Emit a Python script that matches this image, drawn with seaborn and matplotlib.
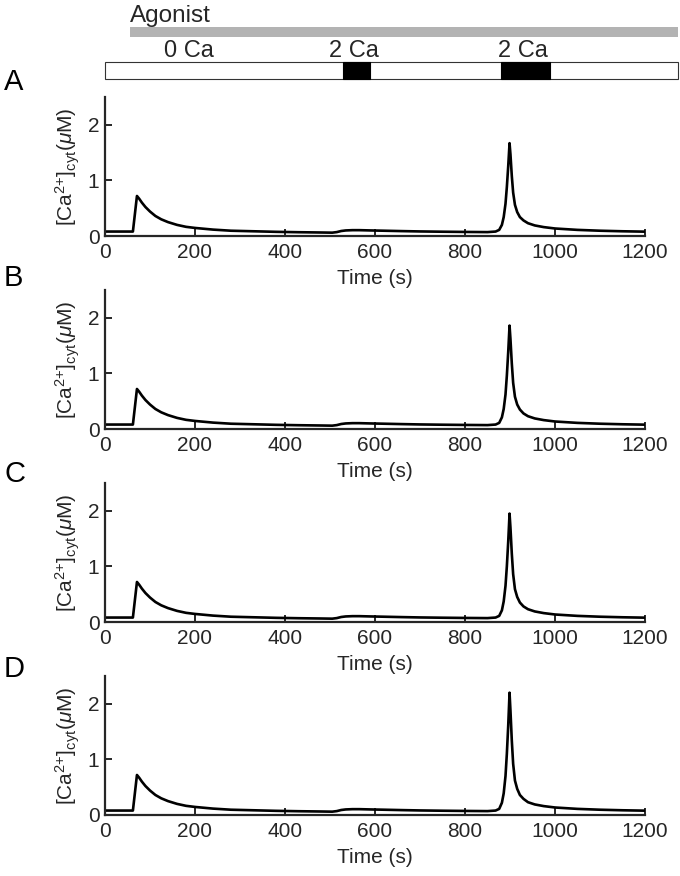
import numpy as np
import pandas as pd
import matplotlib
matplotlib.use("Agg")
import matplotlib.pyplot as plt
from matplotlib.patches import Rectangle
import seaborn as sns

# ---------------- data ----------------
time_s = [0, 62, 71, 76, 82, 90, 100, 112, 125, 140, 160, 180, 200, 240, 280, 330,
          380, 430, 480, 505, 515, 525, 535, 550, 565, 590, 620, 660, 700, 750, 800,
          850, 868, 876, 882, 886, 890, 893, 896, 899, 901, 904, 907, 911, 916, 922,
          930, 940, 955, 975, 1000, 1050, 1100, 1150, 1200]

common_head = [0.08, 0.08, 0.72, 0.67, 0.60, 0.52, 0.44, 0.36, 0.30, 0.25, 0.20, 0.165,
               0.145, 0.115, 0.095, 0.085, 0.075, 0.068, 0.063, 0.06, 0.07, 0.09, 0.10,
               0.105, 0.105, 0.10, 0.095, 0.088, 0.082, 0.077, 0.073, 0.07]
common_tail = [0.11, 0.095, 0.085, 0.078]

peak_A = [0.08, 0.11, 0.20, 0.34, 0.58, 0.88, 1.25, 1.67, 1.47, 1.08, 0.78, 0.56, 0.43,
          0.34, 0.28, 0.23, 0.19, 0.16, 0.135]
peak_B = [0.08, 0.11, 0.21, 0.36, 0.62, 0.96, 1.38, 1.86, 1.62, 1.18, 0.83, 0.58, 0.44,
          0.35, 0.28, 0.23, 0.19, 0.16, 0.135]
peak_C = [0.08, 0.11, 0.21, 0.37, 0.65, 1.00, 1.44, 1.95, 1.70, 1.23, 0.86, 0.59, 0.45,
          0.35, 0.28, 0.23, 0.19, 0.16, 0.135]
peak_D = [0.08, 0.11, 0.22, 0.39, 0.70, 1.10, 1.60, 2.20, 1.88, 1.34, 0.92, 0.62, 0.47,
          0.36, 0.29, 0.23, 0.19, 0.16, 0.135]

ca_A = common_head + peak_A + common_tail
ca_B = common_head + peak_B + common_tail
ca_C = common_head + peak_C + common_tail
ca_D = common_head + peak_D + common_tail

panel_letters = ["A", "B", "C", "D"]
x_ticks = [0, 200, 400, 600, 800, 1000, 1200]
y_ticks = [0, 1, 2]

# protocol
agonist_start = 56
protocol_end = 1273
ca_periods = [(528, 589), (880, 989)]
ca_labels = [("0 Ca", 187), ("2 Ca", 553), ("2 Ca", 928)]

# ---------------- style ----------------
sns.set_style("ticks")
plt.rcParams["font.family"] = ["Liberation Sans", "DejaVu Sans"]
plt.rcParams["mathtext.fontset"] = "custom"
plt.rcParams["mathtext.rm"] = "Liberation Sans"
plt.rcParams["mathtext.it"] = "Liberation Sans:italic"
plt.rcParams["mathtext.default"] = "regular"

W, H = 680, 876
fig = plt.figure(figsize=(W / 100, H / 100), dpi=100)

spine_col = "#262626"
left_px, right_px = 105, 645
ax_h_px = 139
zero_px = [236, 429, 622, 815]
letter_base = [90, 286, 482, 677]

series = [ca_A, ca_B, ca_C, ca_D]
for i, vals in enumerate(series):
    z = zero_px[i]
    ax = fig.add_axes([left_px / W, 1 - z / H, (right_px - left_px) / W, ax_h_px / H])
    df = pd.DataFrame({"t": time_s, "ca": vals})
    sns.lineplot(data=df, x="t", y="ca", ax=ax, color="black", linewidth=1.9)
    ax.set_xlim(0, 1200)
    ax.set_ylim(0, 2.5)
    ax.set_xticks(x_ticks)
    ax.set_yticks(y_ticks)
    ax.tick_params(direction="in", length=5, width=1.4, color=spine_col,
                   labelsize=15, labelcolor="#262626")
    ax.tick_params(axis="x", pad=5)
    ax.tick_params(axis="y", pad=4)
    for s in ["top", "right"]:
        ax.spines[s].set_visible(False)
    for s in ["left", "bottom"]:
        ax.spines[s].set_linewidth(1.6)
        ax.spines[s].set_color(spine_col)
    ax.set_xlabel("Time (s)", fontsize=15, color="#262626", labelpad=5)
    ax.set_ylabel(r"[Ca$^{2{+}}$]$_{cyt}$($\mathit{\mu}$M)", fontsize=15,
                  color="#262626", labelpad=4)
    fig.text(4 / W, 1 - letter_base[i] / H, panel_letters[i], fontsize=21,
             ha="left", va="baseline", color="black")

# ---------------- protocol bar ----------------
top_h = 82
pax = fig.add_axes([left_px / W, 1 - top_h / H, (right_px - left_px) / W, top_h / H])
pax.set_xlim(0, 1200)
pax.set_ylim(top_h, 0)
pax.axis("off")
pax.add_patch(Rectangle((agonist_start, 27), protocol_end - agonist_start, 10,
                        facecolor="#b3b3b3", edgecolor="none", clip_on=False))
pax.add_patch(Rectangle((0, 62), protocol_end, 17, facecolor="white",
                        edgecolor="#333333", linewidth=0.8, clip_on=False))
for a, b in ca_periods:
    pax.add_patch(Rectangle((a, 62), b - a, 17, facecolor="black",
                            edgecolor="black", linewidth=0.8, clip_on=False))
pax.text(agonist_start, 22, "Agonist", fontsize=17.5, ha="left", va="baseline",
         clip_on=False)
for lab, tx in ca_labels:
    pax.text(tx, 57, lab, fontsize=17, ha="center", va="baseline", clip_on=False)

fig.savefig("out.png", dpi=100)
